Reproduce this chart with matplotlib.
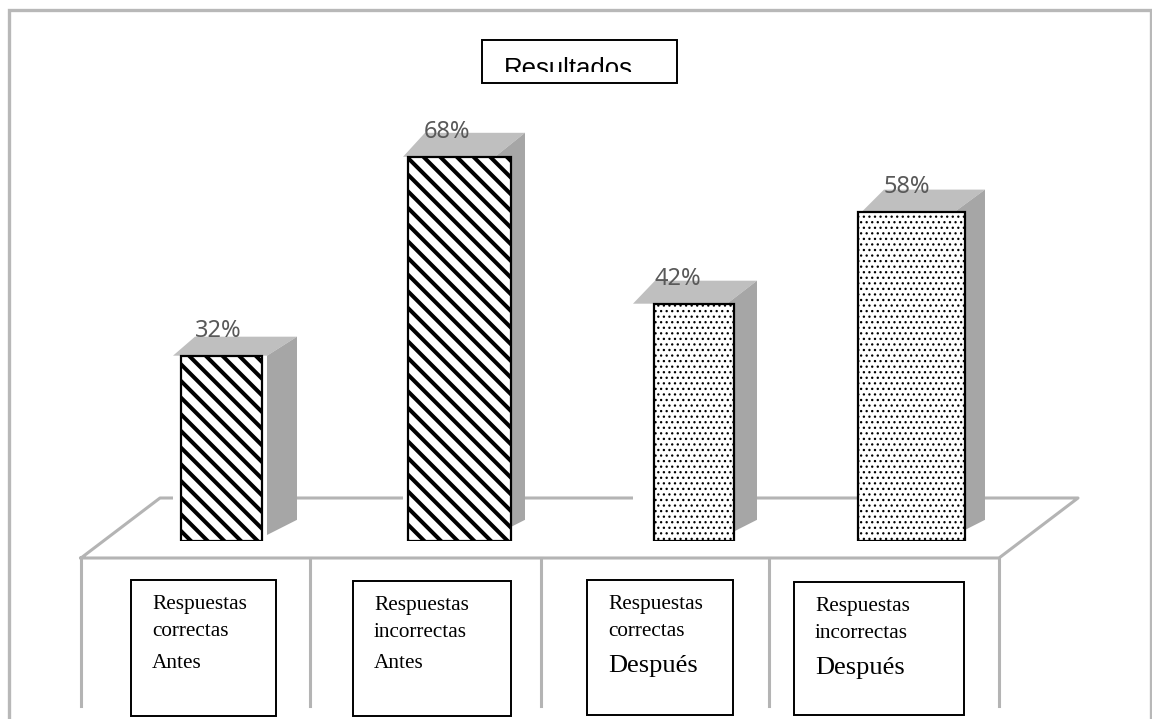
import matplotlib
matplotlib.use("Agg")
import matplotlib.pyplot as plt
from matplotlib.patches import Polygon, Rectangle

# Datos
etiquetas_valor = ["32%", "68%", "42%", "58%"]
valores = [32.8, 68, 42, 58.3]
categorias = ["Respuestas\ncorrectas", "Respuestas\nincorrectas",
              "Respuestas\ncorrectas", "Respuestas\nincorrectas"]
momentos = ["Antes", "Antes", "Después", "Después"]
titulo = "Resultados"

# Geometria en pixeles
W, H = 1152, 719
BASE_PX = 541
PX_POR_PCT = 5.65
izq_barra = [181, 408, 654, 858]
der_barra = [262, 511, 734, 965]
izq_frente = [173, 403, 633, 862]
der_frente = [267, 495, 727, 955]
prof_px = [19, 24, 23, 22]
desvio_etiqueta = [-3.5, -12.5, -16, -4.5]
cajas = [(131, 580, 276, 716), (353, 581, 511, 716), (587, 580, 733, 715), (794, 582, 964, 715)]
tramas = ["\\\\", "\\\\", "...", "..."]
GRIS_LINEA = "#b4b4b4"

fig = plt.figure(figsize=(W / 100, H / 100), dpi=100, facecolor="white")

# Ejes en pixeles para marco, piso y cajas
ax = fig.add_axes([0, 0, 1, 1], zorder=1)
ax.set_xlim(0, W)
ax.set_ylim(H, 0)
ax.axis("off")

ax.plot([9, 9, 1151, 1151], [719, 10, 10, 719], color="#b8b8b8", lw=2.4, solid_joinstyle="miter")
ax.plot([81, 160, 1078, 999, 81], [558, 498, 498, 558, 558], color=GRIS_LINEA, lw=2.2)
for xv in [81, 310, 541, 769, 999]:
    ax.plot([xv, xv], [558, 706], color=GRIS_LINEA, lw=2.2)

# Ejes de las barras: el 0 queda en BASE_PX
alto_ejes = BASE_PX / H
ax2 = fig.add_axes([0, 1 - alto_ejes, 1, alto_ejes], zorder=2)
ax2.patch.set_alpha(0)
ax2.set_xlim(0, W)
ax2.set_ylim(0, BASE_PX / PX_POR_PCT)
ax2.axis("off")

prof_x = 30
pie = 6 / PX_POR_PCT  # la base del frente gris queda un poco arriba

for i, val in enumerate(valores):
    xl, xr = izq_frente[i], der_frente[i]
    prof_y = prof_px[i] / PX_POR_PCT
    # cara superior y lateral
    ax2.add_patch(Polygon([(xl, val), (xl + prof_x - 8, val + prof_y), (xr + prof_x, val + prof_y), (xr, val)],
                          facecolor="#bfbfbf", edgecolor="none"))
    ax2.add_patch(Polygon([(xr, val), (xr + prof_x, val + prof_y), (xr + prof_x, pie + 18 / PX_POR_PCT - 0.5), (xr, pie)],
                          facecolor="#a6a6a6", edgecolor="none"))
    # frente blanco que tapa la linea del piso
    ax2.bar(xl, val, width=xr - xl, align="edge", color="white", edgecolor="none")
    # barra rayada
    b = ax2.bar(izq_barra[i], val, width=der_barra[i] - izq_barra[i], align="edge",
                facecolor="white", edgecolor="black", linewidth=1.6, hatch=tramas[i])[0]
    b.set_hatch_linewidth(2.9 if "\\" in tramas[i] else 0.9)
    centro = (izq_barra[i] + der_barra[i]) / 2 + desvio_etiqueta[i]
    ax2.text(centro, val + 25 / PX_POR_PCT, etiquetas_valor[i],
             ha="center", va="center", fontsize=17, color="#595959", family="Noto Sans", zorder=5)

# Cajas de categorias
for i, (x0, y0, x1, y1) in enumerate(cajas):
    ax.add_patch(Rectangle((x0, y0), x1 - x0, y1 - y0, facecolor="white", edgecolor="black", lw=1.4, zorder=3))
    ax.text(x0 + 21, y0 + 15, categorias[i], ha="left", va="top", fontsize=15.3,
            family="Liberation Serif", linespacing=1.56, zorder=4)
    grande = momentos[i] == "Después"
    ax.text(x0 + 21, y0 + 86 if grande else y0 + 83, momentos[i], ha="left", va="center",
            fontsize=19 if grande else 15.3, family="Liberation Serif", zorder=4)

# Titulo, cortado por abajo como en el original
ax.add_patch(Rectangle((482, 40), 195, 43, facecolor="white", edgecolor="black", lw=1.4, zorder=3))
t = ax.text(504, 76, titulo, ha="left", va="baseline", fontsize=18.5, family="Liberation Sans",
            zorder=4, clip_on=True)
t.set_clip_path(Rectangle((482, 40), 195, 32, transform=ax.transData))

fig.savefig("out.png", dpi=100)
